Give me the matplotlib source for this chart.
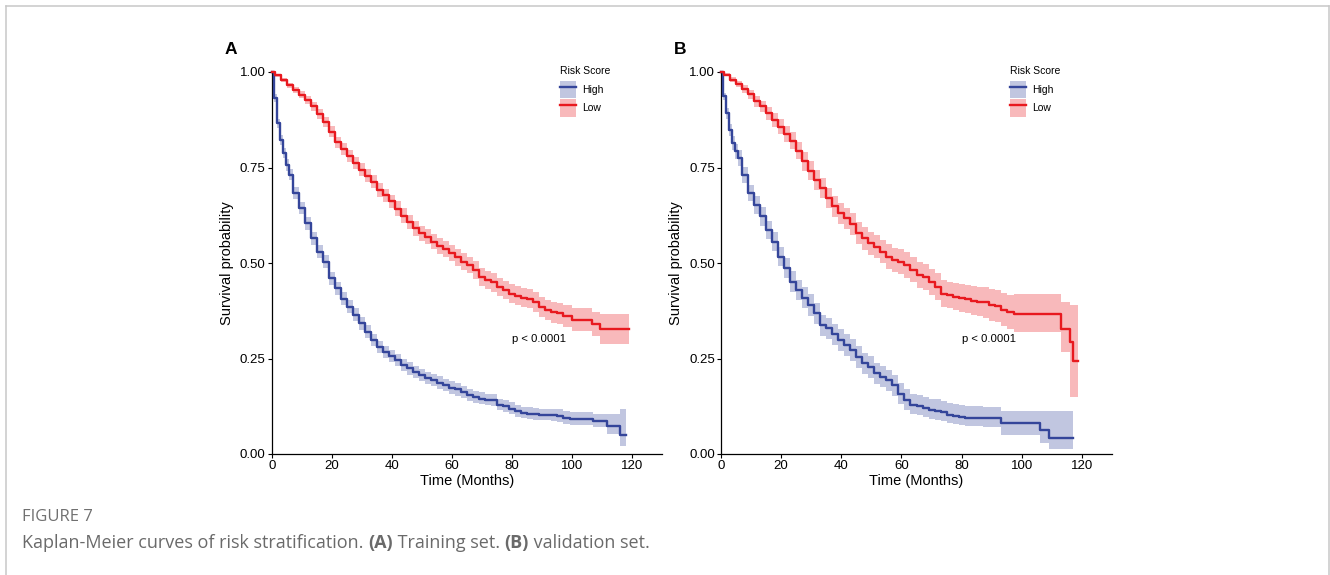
import matplotlib
matplotlib.use("Agg")
import matplotlib.pyplot as plt
from matplotlib.patches import Patch
from matplotlib.lines import Line2D

# ---- Datos (tiempo de inicio de cada escalon, supervivencia) ----
# Panel A (training set), grupo High
ta_hi = [0, 0.5, 1.5, 2.5, 3.5, 4.5, 5.5,
         7, 9, 11, 13, 15, 17, 19, 21, 23, 25, 27, 29, 31, 33, 35, 37, 39, 41, 43, 45, 47, 49,
         51, 53, 55, 57, 59, 61, 63, 65, 67, 69, 71, 73, 75, 77, 79, 81, 83, 85, 87, 89,
         93, 95, 97, 99.3, 107, 111.5, 116, 118]
sa_hi = [1.000, 0.932, 0.866, 0.823, 0.788, 0.757, 0.731,
         0.683, 0.643, 0.604, 0.565, 0.530, 0.503, 0.460, 0.434, 0.407, 0.385, 0.364, 0.342, 0.320, 0.298, 0.281,
         0.267, 0.256, 0.246, 0.234, 0.224, 0.215, 0.206,
         0.199, 0.193, 0.187, 0.180, 0.174, 0.169, 0.163, 0.154, 0.149, 0.145, 0.142, 0.141, 0.129, 0.126, 0.119,
         0.112, 0.108, 0.106, 0.104, 0.103,
         0.101, 0.100, 0.094, 0.091, 0.086, 0.073, 0.049, 0.049]
ua_hi = [0.000, 0.010, 0.012, 0.013, 0.014, 0.015, 0.015,
         0.016, 0.016, 0.017, 0.017, 0.017, 0.017, 0.017, 0.017, 0.017, 0.017, 0.017, 0.017, 0.017, 0.016, 0.016,
         0.016, 0.016, 0.016, 0.016, 0.016, 0.016, 0.016,
         0.016, 0.016, 0.016, 0.016, 0.016, 0.016, 0.016, 0.016, 0.016, 0.016, 0.016, 0.016, 0.016, 0.016, 0.016,
         0.016, 0.016, 0.016, 0.016, 0.016,
         0.017, 0.017, 0.018, 0.018, 0.020, 0.033, 0.068, 0.068]
da_hi = [0.000, 0.010, 0.012, 0.013, 0.014, 0.015, 0.015,
         0.016, 0.016, 0.017, 0.017, 0.017, 0.017, 0.017, 0.017, 0.017, 0.017, 0.017, 0.017, 0.017, 0.016, 0.016,
         0.016, 0.016, 0.016, 0.016, 0.016, 0.016, 0.016,
         0.016, 0.016, 0.016, 0.016, 0.016, 0.016, 0.016, 0.015, 0.015, 0.015, 0.015, 0.015, 0.015, 0.015, 0.015,
         0.015, 0.015, 0.015, 0.015, 0.015,
         0.015, 0.015, 0.015, 0.015, 0.016, 0.020, 0.028, 0.028]

# Panel A, grupo Low
ta_lo = [0, 1, 3, 5, 7, 9, 11, 13, 15, 17, 19, 21, 23, 25, 27, 29, 31, 33, 35, 37, 39, 41, 43, 45, 47, 49,
         51, 53, 55, 57, 59, 61, 63, 65, 67, 69, 71, 73, 75, 77, 79, 81, 83, 85, 87, 89, 91, 93, 95, 97,
         100, 106.5, 109.3, 119]
sa_lo = [1.000, 0.991, 0.980, 0.965, 0.954, 0.941, 0.927, 0.910, 0.890, 0.869, 0.844, 0.816, 0.799, 0.781,
         0.761, 0.744, 0.729, 0.713, 0.691, 0.677, 0.661, 0.642, 0.624, 0.607, 0.591, 0.578,
         0.569, 0.556, 0.545, 0.536, 0.525, 0.515, 0.503, 0.495, 0.482, 0.464, 0.455, 0.449, 0.438, 0.429,
         0.420, 0.414, 0.409, 0.407, 0.399, 0.385, 0.377, 0.371, 0.368, 0.362,
         0.351, 0.340, 0.326, 0.326]
ua_lo = [0.000, 0.003, 0.005, 0.007, 0.008, 0.009, 0.010, 0.011, 0.012, 0.013, 0.014, 0.015, 0.015, 0.016,
         0.016, 0.017, 0.017, 0.017, 0.018, 0.018, 0.018, 0.019, 0.019, 0.019, 0.020, 0.020,
         0.020, 0.020, 0.021, 0.021, 0.021, 0.022, 0.022, 0.022, 0.023, 0.023, 0.023, 0.024, 0.024, 0.024,
         0.025, 0.025, 0.025, 0.026, 0.026, 0.027, 0.027, 0.028, 0.028, 0.029,
         0.030, 0.033, 0.040, 0.040]
da_lo = [0.000, 0.003, 0.005, 0.007, 0.008, 0.009, 0.010, 0.011, 0.012, 0.013, 0.014, 0.015, 0.015, 0.016,
         0.016, 0.017, 0.017, 0.017, 0.018, 0.018, 0.018, 0.019, 0.019, 0.019, 0.020, 0.020,
         0.020, 0.020, 0.021, 0.021, 0.021, 0.022, 0.022, 0.022, 0.023, 0.023, 0.023, 0.024, 0.024, 0.024,
         0.025, 0.025, 0.025, 0.026, 0.026, 0.027, 0.027, 0.028, 0.028, 0.029,
         0.029, 0.031, 0.037, 0.037]

# Panel B (validation set), grupo High
tb_hi = [0, 0.5, 1.5, 2.5, 3.5, 4.5, 5.5,
         7, 9, 11, 13, 15, 17, 19, 21, 23, 25, 27, 29, 31, 33, 35, 37, 39, 41, 43, 45, 47, 49,
         51, 53, 55, 57, 59, 61, 63, 65, 67, 69, 71, 73, 75, 77, 79, 81, 83, 85, 87, 89,
         93, 106, 109, 117]
sb_hi = [1.000, 0.936, 0.892, 0.849, 0.814, 0.792, 0.775,
         0.731, 0.683, 0.652, 0.622, 0.587, 0.556, 0.517, 0.486, 0.451, 0.429, 0.409, 0.390, 0.368, 0.337, 0.329,
         0.313, 0.298, 0.285, 0.272, 0.254, 0.237, 0.228,
         0.211, 0.202, 0.193, 0.180, 0.158, 0.141, 0.129, 0.126, 0.121, 0.115, 0.113, 0.110, 0.103, 0.100, 0.097,
         0.095, 0.094, 0.094, 0.093, 0.093,
         0.081, 0.063, 0.041, 0.041]
ub_hi = [0.000, 0.010, 0.014, 0.016, 0.018, 0.019, 0.020,
         0.021, 0.022, 0.023, 0.024, 0.024, 0.025, 0.026, 0.026, 0.027, 0.027, 0.027, 0.028, 0.028, 0.028, 0.028,
         0.028, 0.028, 0.028, 0.028, 0.028, 0.028, 0.028,
         0.028, 0.028, 0.028, 0.028, 0.028, 0.028, 0.029, 0.029, 0.029, 0.029, 0.030, 0.030, 0.030, 0.030, 0.031,
         0.031, 0.031, 0.031, 0.031, 0.031,
         0.032, 0.050, 0.071, 0.071]
db_hi = [0.000, 0.010, 0.014, 0.016, 0.018, 0.019, 0.020,
         0.021, 0.022, 0.023, 0.024, 0.024, 0.025, 0.026, 0.026, 0.027, 0.027, 0.027, 0.028, 0.028, 0.028, 0.028,
         0.028, 0.028, 0.028, 0.028, 0.028, 0.028, 0.028,
         0.028, 0.027, 0.027, 0.027, 0.026, 0.025, 0.025, 0.024, 0.024, 0.024, 0.023, 0.023, 0.023, 0.022, 0.022,
         0.022, 0.022, 0.022, 0.022, 0.022,
         0.031, 0.033, 0.027, 0.027]

# Panel B, grupo Low
tb_lo = [0, 1, 3, 5, 7, 9, 11, 13, 15, 17, 19, 21, 23, 25, 27, 29, 31, 33, 35, 37, 39, 41, 43, 45, 47,
         49, 51, 53, 55, 57, 59, 61, 63, 65, 67, 69, 71, 73, 75, 77, 79, 81, 83, 85, 87, 89, 91, 93, 95,
         97.4, 113.1, 116.2, 117, 118.8]
sb_lo = [1.000, 0.993, 0.980, 0.969, 0.956, 0.942, 0.923, 0.910, 0.892, 0.875, 0.857, 0.837, 0.820, 0.794,
         0.766, 0.741, 0.717, 0.696, 0.670, 0.648, 0.630, 0.617, 0.601, 0.578, 0.565,
         0.552, 0.543, 0.530, 0.517, 0.508, 0.503, 0.495, 0.482, 0.469, 0.464, 0.451, 0.438, 0.420, 0.416,
         0.412, 0.409, 0.405, 0.401, 0.399, 0.397, 0.390, 0.388, 0.377, 0.372,
         0.366, 0.326, 0.292, 0.243, 0.243]
ub_lo = [0.000, 0.004, 0.006, 0.008, 0.010, 0.012, 0.014, 0.015, 0.017, 0.018, 0.020, 0.021, 0.022, 0.023,
         0.024, 0.025, 0.026, 0.026, 0.027, 0.027, 0.028, 0.028, 0.029, 0.029, 0.030,
         0.030, 0.031, 0.031, 0.032, 0.032, 0.033, 0.033, 0.033, 0.034, 0.034, 0.034, 0.035, 0.035, 0.035,
         0.036, 0.036, 0.037, 0.038, 0.039, 0.040, 0.041, 0.042, 0.044, 0.045,
         0.052, 0.073, 0.098, 0.147, 0.147]
db_lo = [0.000, 0.004, 0.006, 0.008, 0.010, 0.012, 0.014, 0.015, 0.017, 0.018, 0.020, 0.021, 0.022, 0.023,
         0.024, 0.025, 0.026, 0.026, 0.027, 0.027, 0.028, 0.028, 0.029, 0.029, 0.030,
         0.030, 0.031, 0.031, 0.032, 0.032, 0.033, 0.033, 0.033, 0.034, 0.034, 0.034, 0.035, 0.035, 0.035,
         0.036, 0.036, 0.037, 0.038, 0.039, 0.040, 0.041, 0.042, 0.043, 0.044,
         0.046, 0.059, 0.143, 0.094, 0.094]

grupos = ["High", "Low"]
x_ticks = [0, 20, 40, 60, 80, 100, 120]
y_ticks = [0.0, 0.25, 0.5, 0.75, 1.0]
y_labels = ["0.00", "0.25", "0.50", "0.75", "1.00"]
p_texto = "p < 0.0001"

AZUL = "#34459A"
ROJO = "#E8191F"
FUENTE = ["Liberation Sans", "DejaVu Sans"]

plt.rcParams["font.family"] = FUENTE


def curva_km(ax, t, s, up, dn, color):
    # escalones + banda de confianza
    lo = [v - d for v, d in zip(s, dn)]
    hi = [v + u for v, u in zip(s, up)]
    ax.fill_between(t, lo, hi, step="post", color=color, alpha=0.3, linewidth=0)
    ax.step(t, s, where="post", color=color, linewidth=1.7, clip_on=False, zorder=3)


def panel(ax, letra, series):
    for (t, s, up, dn), color in zip(series, [AZUL, ROJO]):
        curva_km(ax, t, s, up, dn, color)
    ax.set_xlim(0, 130)
    ax.set_ylim(0, 1)
    ax.set_xticks(x_ticks)
    ax.set_yticks(y_ticks)
    ax.set_yticklabels(y_labels)
    for lado in ["top", "right"]:
        ax.spines[lado].set_visible(False)
    for lado in ["left", "bottom"]:
        ax.spines[lado].set_linewidth(0.9)
    ax.tick_params(labelsize=9.5, length=3, width=0.8, pad=1.5, colors="black")
    ax.set_xlabel("Time (Months)", fontsize=10.5, labelpad=1)
    ax.set_ylabel("Survival probability", fontsize=10.5, labelpad=4)
    ax.text(80, 0.30, p_texto, fontsize=8.2, ha="left", va="center")

    # leyenda: titulo aparte y cajas de banda + linea
    ax.text(0.738, (454 - 71) / 382, "Risk Score", transform=ax.transAxes,
            fontsize=7.5, ha="left", va="center")
    handles = [(Patch(facecolor=c, alpha=0.3, edgecolor="none"), Line2D([], [], color=c, linewidth=1.7))
               for c in [AZUL, ROJO]]
    ax.legend(handles, grupos, loc="upper left",
              bbox_to_anchor=(0.738, (454 - 81) / 382), frameon=False, fontsize=7.5,
              handlelength=1.6, handleheight=2.2,
              labelspacing=0.1, handletextpad=0.55, borderpad=0, borderaxespad=0)
    ax.figure.text(ax.get_position().x0 - 47 / 1330, 1 - 49 / 575, letra,
                   fontsize=12.5, fontweight="bold", ha="left", va="center")


fig = plt.figure(figsize=(13.3, 5.75), dpi=100)
axA = fig.add_axes([272 / 1330, 1 - 454 / 575, 390 / 1330, 382 / 575])
axB = fig.add_axes([721 / 1330, 1 - 454 / 575, 391 / 1330, 382 / 575])

panel(axA, "A", [(ta_hi, sa_hi, ua_hi, da_hi), (ta_lo, sa_lo, ua_lo, da_lo)])
panel(axB, "B", [(tb_hi, sb_hi, ub_hi, db_hi), (tb_lo, sb_lo, ub_lo, db_lo)])

# marco gris de la pagina
gris = "#c8c8c8"
fig.add_artist(Line2D([6 / 1330, 6 / 1330], [0, 1 - 6 / 575], color=gris, linewidth=1.1))
fig.add_artist(Line2D([6 / 1330, 1329 / 1330], [1 - 6 / 575, 1 - 6 / 575], color=gris, linewidth=1.1))
fig.add_artist(Line2D([1329 / 1330, 1329 / 1330], [0, 1 - 6 / 575], color=gris, linewidth=1.1))

# pie de figura
cap_font = ["Open Sans", "DejaVu Sans"]
fig.text(22 / 1330, 1 - 517 / 575, "FIGURE 7", fontsize=12, color="#707070",
         family=cap_font, ha="left", va="center")
partes = [("Kaplan-Meier curves of risk stratification. ", "normal"), ("(A)", "bold"),
          (" Training set. ", "normal"), ("(B)", "bold"), (" validation set.", "normal")]
prev = fig.text(22 / 1330, 1 - 548 / 575, partes[0][0], fontsize=13, color="#6a6a6a",
                family=cap_font, ha="left", va="baseline")
for txt, peso in partes[1:]:
    prev = axA.annotate(txt, xy=(1, 0), xycoords=prev, ha="left", va="bottom",
                        fontsize=13, color="#6a6a6a", family=cap_font, fontweight=peso,
                        annotation_clip=False)

fig.savefig("out.png", dpi=100)
